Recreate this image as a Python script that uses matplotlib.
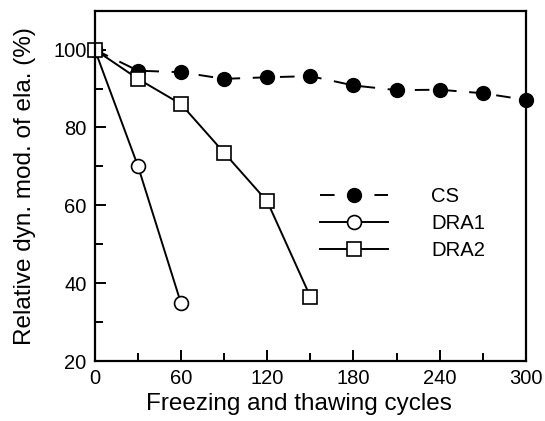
import matplotlib
matplotlib.use("Agg")
import matplotlib.pyplot as plt
from matplotlib.ticker import MultipleLocator

# ── Data ──────────────────────────────────────────────────────────────
CS_X   = [0, 30, 60, 90, 120, 150, 180, 210, 240, 270, 300]
CS_Y   = [100, 94.6, 94.2, 92.5, 92.9, 93.2, 90.8, 89.6, 89.7, 88.8, 87.1]
DRA1_X = [0, 30, 60]
DRA1_Y = [100, 70.1, 34.8]
DRA2_X = [0, 30, 60, 90, 120, 150]
DRA2_Y = [100, 92.5, 86.0, 73.5, 61.0, 36.5]

X_TICKS = [0, 60, 120, 180, 240, 300]
Y_TICKS = [20, 40, 60, 80, 100]

plt.rcParams["font.family"] = ["Liberation Sans", "DejaVu Sans"]

fig = plt.figure(figsize=(5.45, 4.21), dpi=100)
ax = fig.add_axes([0.174, 0.1425, 0.791, 0.832])

LW = 1.4
ax.plot(CS_X, CS_Y, color="black", lw=LW, linestyle=(0, (7.5, 6.5)),
        marker="o", ms=10, mfc="black", mec="black", label="CS", clip_on=False)
ax.plot(DRA1_X, DRA1_Y, color="black", lw=LW,
        marker="o", ms=10, mfc="white", mec="black", mew=1.2, label="DRA1",
        clip_on=False)
ax.plot(DRA2_X, DRA2_Y, color="black", lw=LW,
        marker="s", ms=10, mfc="white", mec="black", mew=1.2, label="DRA2",
        clip_on=False)

ax.set_xlim(0, 300)
ax.set_ylim(20, 110)
ax.set_xticks(X_TICKS)
ax.set_yticks(Y_TICKS)
ax.xaxis.set_minor_locator(MultipleLocator(30))
ax.yaxis.set_minor_locator(MultipleLocator(10))
ax.tick_params(which="both", direction="in", width=1.4, labelsize=14.5,
               top=False, right=False)
ax.tick_params(which="major", length=8, pad=6)
ax.tick_params(which="minor", length=6)
for s in ax.spines.values():
    s.set_linewidth(1.6)

ax.set_xlabel("Freezing and thawing cycles", fontsize=17.5)
ax.xaxis.set_label_coords(0.473, -0.091)
ax.set_ylabel("Relative dyn. mod. of ela. (%)", fontsize=17.5, labelpad=12)

ax.legend(loc="upper left", bbox_to_anchor=(0.522, 0.496), frameon=False,
          fontsize=14.6, handlelength=3.35, handletextpad=2.15,
          labelspacing=0.4, borderpad=0, borderaxespad=0)

fig.savefig("out.png", dpi=100)
